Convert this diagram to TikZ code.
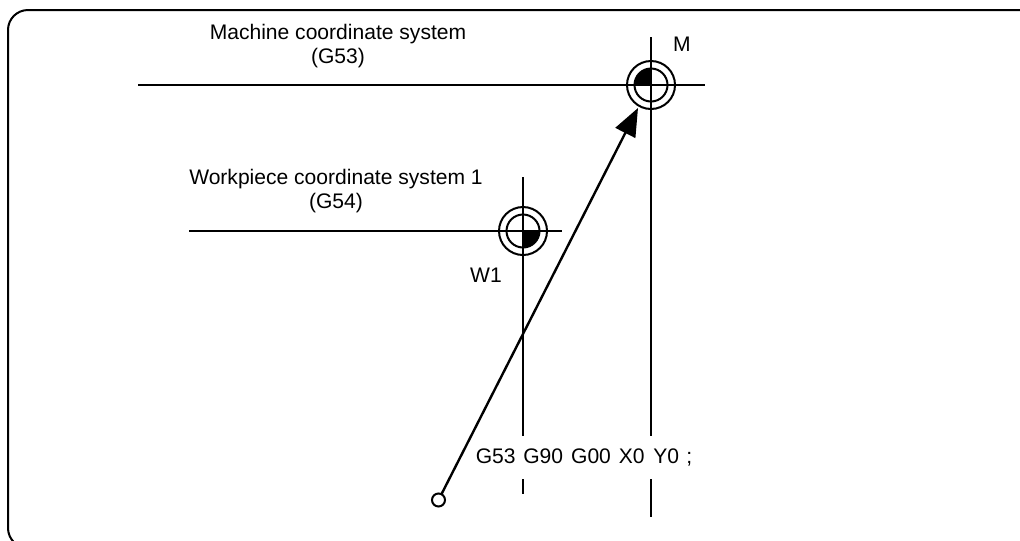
\documentclass[tikz,border=0pt]{standalone}
\usepackage{fontspec}
\setmainfont{Liberation Sans}
\usetikzlibrary{positioning,arrows.meta}

\begin{document}
\begin{tikzpicture}[
    x=0.75pt, y=-0.75pt,
    axis/.style={line width=1.5pt},
    ring/.style={draw, circle, line width=1.5pt, inner sep=0pt, outer sep=0pt},
    label/.style={font=\fontsize{15.8pt}{18pt}\selectfont, align=center, inner sep=0pt},
    toolpath/.style={-{Triangle[length=21pt, width=16.5pt]}, line width=1.8pt}
  ]
  \useasboundingbox (0,0) rectangle (1020,540);
  % frame runs off the right and bottom edges
  \draw[line width=1.5pt, rounded corners=15pt] (8,10) rectangle (1038,548);

  % machine origin
  \fill (651,85) -- (635,85) arc[start angle=180, end angle=270, radius=16] -- cycle;
  \node[ring, minimum size=24.75pt] (mInner) at (651,85) {};
  \node[ring, minimum size=36pt] (mOuter) at (651,85) {};
  % workpiece origin
  \fill (523,231) -- (539,231) arc[start angle=0, end angle=90, radius=16] -- cycle;
  \node[ring, minimum size=24.75pt] (wInner) at (523,231) {};
  \node[ring, minimum size=36pt] (wOuter) at (523,231) {};

  % axes
  \coordinate (mLeft) at (138,85);
  \coordinate (mRight) at (705,85);
  \coordinate (mTop) at (651,37);
  \coordinate (mCut) at (651,436);
  \coordinate (mLow) at (651,479);
  \coordinate (mEnd) at (651,517);
  \coordinate (wLeft) at (189,231);
  \coordinate (wRight) at (562,231);
  \coordinate (wTop) at (523,177);
  \coordinate (wCut) at (523,436);
  \coordinate (wLow) at (523,479);
  \coordinate (wEnd) at (523,494);
  \draw[axis] (mLeft) -- (mRight);
  \draw[axis] (mTop) -- (mCut);
  \draw[axis] (mLow) -- (mEnd);
  \draw[axis] (wLeft) -- (wRight);
  \draw[axis] (wTop) -- (wCut);
  \draw[axis] (wLow) -- (wEnd);

  % tool path
  \node[ring, minimum size=9.75pt] (start) at (438.5,500) {};
  \coordinate (tip) at (638,108);
  \draw[toolpath] (start) -- (tip);

  \node[label] (machine) at (338,46) {Machine coordinate system\\(G53)};
  \node[label] (work) at (336,191) {Workpiece coordinate system 1\\(G54)};
  \node[label] (mName) at (682,44) {M};
  \node[label] (wName) at (486,275) {W1};
  \node[label, anchor=west] (block) at (475.5,457) {G53\hspace{5.8pt}G90\hspace{6pt}G00\hspace{6pt}X0\hspace{6.5pt}Y0\hspace{5.5pt};};
\end{tikzpicture}
\end{document}
